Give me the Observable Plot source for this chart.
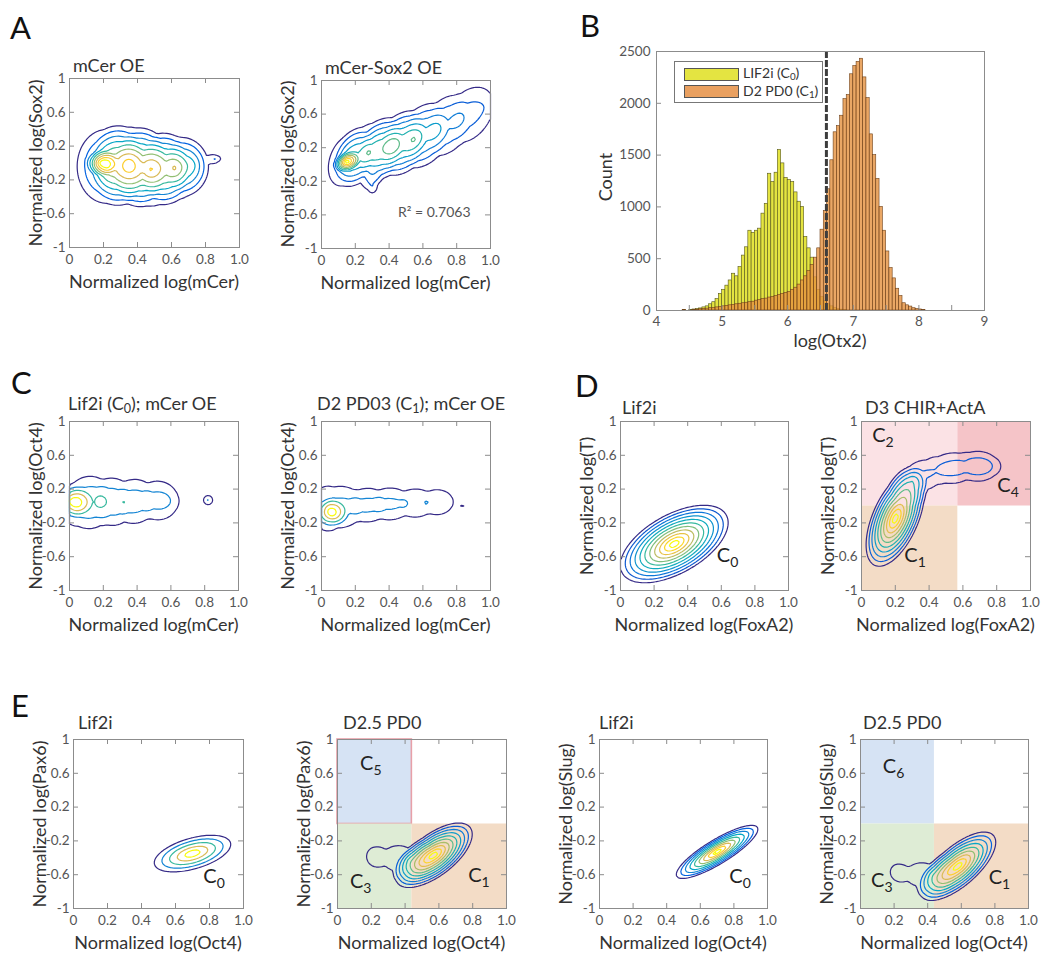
<!DOCTYPE html>
<html><head><meta charset="utf-8">
<script src="https://cdn.jsdelivr.net/npm/d3@7"></script>
<script src="https://cdn.jsdelivr.net/npm/@observablehq/plot@0.6"></script>
<style>
body{margin:0;background:#fff;}
#fig{position:relative;width:1045px;height:955px;font-family:Lato,"Open Sans",sans-serif;color:#333;overflow:hidden;background:#fff}
.abs{position:absolute;white-space:nowrap;line-height:1}
.letter{font-size:31px;color:#111;transform:translateY(-50%)}
.title{font-size:18px;color:#333;transform:translateY(-50%)}
.xlab{font-size:18px;color:#333;transform:translate(-50%,-50%)}
.ylab{font-size:18px;color:#333;transform:translate(-50%,-50%) rotate(-90deg)}
sub{font-size:70%;vertical-align:-0.2em}
.legend{border:1px solid #777;background:#fff;}
.legend .sw{position:absolute;left:9px;width:53px;height:11px;border:1px solid #555}
.legend .lt{position:absolute;left:68px;font-size:14px;color:#333;transform:translateY(-50%)}
svg{position:absolute}
</style></head><body><div id="fig"></div>
<script>
// ---------------- DATA ----------------
const xTicksNorm = [0, 0.2, 0.4, 0.6, 0.8, 1.0];
const yTicksNorm = [-1, -0.6, -0.2, 0.2, 0.6, 1];
const otxTicks = [4, 5, 6, 7, 8, 9];
const otxMinorTicks = [4.5, 5, 5.5, 6, 6.5, 7, 7.5, 8, 8.5];
const countTicks = [0, 500, 1000, 1500, 2000, 2500];

// Panel B histogram: counts per log(Otx2) bin, bins of 0.05 starting at 4.40
const otxBinStart = 4.40;
const otxBinWidth = 0.05;
const lif2iCounts = [5,0,5,10,15,20,30,40,60,80,110,160,200,240,290,355,330,420,530,610,
  770,750,770,790,935,1030,1320,1240,1330,1550,1420,1280,1260,1240,1140,1050,1000,710,600,510,
  320,200,130,90,60,40,25,15,8,4];
const d2pd0Counts = [3,0,0,5,8,12,15,18,22,25,30,35,40,45,50,55,60,65,70,75,
  80,85,95,100,110,115,125,130,140,150,160,170,180,200,220,250,290,330,380,440,
  510,600,780,960,1170,1450,1720,1780,1880,2040,2080,2280,2360,2400,2430,2250,2050,1700,1500,1270,
  1000,770,570,410,310,210,140,70,50,38,22,15,10,5];
const otxGate = 6.59;
const rSquared = 0.7063;

// Density modes: [centerX, centerY, reachX, reachY, tilt, weight]
const aMCerModes = [
  [0.19, 0.00, 0.10, 0.15, 0, 0.28],
  [0.22, -0.04, 0.22, 0.55, 0, 0.30],
  [0.35, -0.02, 0.22, 0.56, 0, 0.30],
  [0.48, -0.08, 0.22, 0.54, 0, 0.30],
  [0.62, -0.06, 0.20, 0.48, 0, 0.28],
  [0.72, -0.03, 0.16, 0.36, 0, 0.15],
  [0.86, 0.05, 0.06, 0.08, 0, 0.12]];
const aSox2Modes = [
  [0.15, 0.03, 0.08, 0.12, 0.3, 0.40],
  [0.15, 0.05, 0.15, 0.42, 0.3, 0.25],
  [0.28, 0.14, 0.20, 0.46, 0.3, 0.30],
  [0.42, 0.22, 0.20, 0.46, 0.3, 0.30],
  [0.55, 0.30, 0.20, 0.48, 0.3, 0.25],
  [0.68, 0.41, 0.20, 0.50, 0.3, 0.18],
  [0.82, 0.54, 0.20, 0.50, 0.3, 0.14],
  [0.95, 0.67, 0.20, 0.50, 0.3, 0.10],
  [0.30, -0.25, 0.07, 0.20, 0, 0.12]];
const cLif2iModes = [
  [0.02, 0.05, 0.12, 0.20, 0, 0.45],
  [0.05, 0.02, 0.20, 0.48, 0, 0.25],
  [0.18, 0.06, 0.18, 0.42, 0, 0.25],
  [0.32, 0.04, 0.18, 0.42, 0, 0.25],
  [0.46, 0.07, 0.18, 0.38, 0, 0.22],
  [0.58, 0.06, 0.16, 0.34, 0, 0.20],
  [0.82, 0.07, 0.05, 0.10, 0, 0.25]];
const cPD03Modes = [
  [0.06, -0.08, 0.10, 0.18, 0, 0.45],
  [0.04, -0.03, 0.20, 0.50, 0, 0.25],
  [0.20, 0.00, 0.18, 0.32, 0, 0.22],
  [0.34, 0.02, 0.18, 0.32, 0, 0.22],
  [0.48, 0.03, 0.18, 0.30, 0, 0.20],
  [0.62, 0.04, 0.16, 0.30, 0, 0.18],
  [0.74, 0.05, 0.14, 0.27, 0, 0.16],
  [0.84, 0.00, 0.06, 0.10, 0, 0.08]];
const dLif2iModes = [
  [0.32, -0.45, 0.35, 0.50, 0.55, 1.0]];
const dChirModes = [
  [0.20, -0.15, 0.19, 0.62, 0.55, 1.0],
  [0.30, 0.30, 0.15, 0.30, 0, 0.18],
  [0.45, 0.42, 0.18, 0.30, 0, 0.20],
  [0.62, 0.47, 0.18, 0.28, 0, 0.22],
  [0.75, 0.47, 0.15, 0.25, 0, 0.18]];
const ePax6Lif2iModes = [
  [0.70, -0.35, 0.27, 0.26, 0.5, 1.0]];
const ePax6PD0Modes = [
  [0.57, -0.37, 0.25, 0.42, 0.65, 1.0],
  [0.42, -0.42, 0.15, 0.30, 0, 0.14],
  [0.30, -0.40, 0.15, 0.28, 0, 0.13],
  [0.20, -0.38, 0.10, 0.25, 0, 0.10]];
const eSlugLif2iModes = [
  [0.70, -0.33, 0.27, 0.35, 0.85, 1.0]];
const eSlugPD0Modes = [
  [0.58, -0.50, 0.25, 0.45, 0.70, 1.0],
  [0.42, -0.60, 0.15, 0.30, 0, 0.14],
  [0.30, -0.60, 0.15, 0.28, 0, 0.13],
  [0.20, -0.56, 0.10, 0.25, 0, 0.10]];

// Gates (state regions) and state labels
const dChirGates = [
  {name: "C2", x1: 0, x2: 0.57, y1: 0, y2: 1},
  {name: "C4", x1: 0.57, x2: 1, y1: 0, y2: 1},
  {name: "C1", x1: 0, x2: 0.57, y1: -1, y2: 0}];
const ePax6Gates = [
  {name: "C5", x1: 0, x2: 0.44, y1: 0, y2: 1},
  {name: "C3", x1: 0, x2: 0.44, y1: -1, y2: 0},
  {name: "C1", x1: 0.44, x2: 1, y1: -1, y2: 0}];
const eSlugGates = [
  {name: "C6", x1: 0, x2: 0.44, y1: 0, y2: 1},
  {name: "C3", x1: 0, x2: 0.44, y1: -1, y2: 0},
  {name: "C1", x1: 0.44, x2: 1, y1: -1, y2: 0}];
const dLif2iLabels = [{c: "C", s: "0", x: 0.64, y: -0.67}];
const dChirLabels = [{c: "C", s: "2", x: 0.13, y: 0.75}, {c: "C", s: "4", x: 0.87, y: 0.16}, {c: "C", s: "1", x: 0.32, y: -0.67}];
const eLif2iLabels = [{c: "C", s: "0", x: 0.83, y: -0.70}];
const ePax6PD0Labels = [{c: "C", s: "5", x: 0.2, y: 0.63}, {c: "C", s: "3", x: 0.14, y: -0.76}, {c: "C", s: "1", x: 0.84, y: -0.69}];
const eSlugLif2iLabels = [{c: "C", s: "0", x: 0.84, y: -0.70}];
const eSlugPD0Labels = [{c: "C", s: "6", x: 0.2, y: 0.6}, {c: "C", s: "3", x: 0.13, y: -0.75}, {c: "C", s: "1", x: 0.83, y: -0.72}];

// ---------------- STYLE ----------------
const FONT = 'Lato, "Open Sans", sans-serif';
const parulaStops = ["#352a87","#0363e1","#1485d4","#06a7c6","#38b99e","#92bf73","#d9ba56","#fcce2e","#f9fb0e"];
const parula = d3.piecewise(d3.interpolateRgb, parulaStops);
const regionFill = {C1: "#f3dcc6", C2: "#fbe2e5", C4: "#f5c4c8", C3: "#deecd5", C5: "#d6e3f4", C6: "#d6e3f4"};
const regionStroke = {C5: "#e8a0a8"};
const frameColor = "#8c8c8c";
const tickTextColor = "#555";

const fig = document.getElementById("fig");
function addDiv(cls, html, left, top) {
  const d = document.createElement("div");
  d.className = "abs " + cls;
  d.innerHTML = html;
  d.style.left = left + "px";
  d.style.top = top + "px";
  fig.appendChild(d);
  return d;
}
const fmtNormX = d => d === 0 ? "0" : d.toFixed(1);
const fmtNormY = d => (d === 1 || d === -1) ? String(d) : d.toFixed(1);

function densityOf(modes) {
  const pre = modes.map(([cx, cy, rx, ry, rho, w]) => ({cx, cy, rx, ry, rho, k: Math.sqrt(1 - rho * rho), w}));
  return (x, y) => {
    let s = 0;
    for (const c of pre) {
      const u = (x - c.cx) / c.rx, v = (y - c.cy) / c.ry;
      const z = (v - c.rho * u) / c.k;
      const d = Math.sqrt(u * u + z * z);
      if (d < 1) s += c.w * (1 - d);
    }
    return s;
  };
}
function peakOf(f) {
  let m = 0;
  for (let i = 0; i <= 200; i++) for (let j = 0; j <= 200; j++) m = Math.max(m, f(i / 200, -1 + 2 * j / 200));
  return m;
}

function contourPanel(p) {
  const [L, T, W, H] = p.frame;
  const ml = 45, mt = 6, mr = 6, mb = 28;
  const f = densityOf(p.modes);
  const peak = peakOf(f);
  const n = p.levels;
  const thresholds = d3.range(1, n + 1).map(k => peak * k / (n + 1));
  const tY = 5 * 2 / H, tX = 5 / W;
  const marks = [];
  for (const g of (p.gates || [])) {
    marks.push(Plot.rect([g], {x1: "x1", x2: "x2", y1: "y1", y2: "y2", fill: regionFill[g.name],
      stroke: regionStroke[g.name] || "none", strokeWidth: 1.6}));
  }
  thresholds.forEach((t, i) => {
    marks.push(Plot.contour({x1: 0, x2: 1, y1: -1, y2: 1, value: f, thresholds: [t],
      stroke: parula(i / (n - 1)), fill: "none", strokeWidth: 1.2}));
  });
  const inX = xTicksNorm.slice(1, -1), inY = yTicksNorm.slice(1, -1);
  marks.push(
    Plot.frame({stroke: frameColor}),
    Plot.ruleX(inX, {x: d => d, y1: -1, y2: -1 + tY, stroke: frameColor}),
    Plot.ruleX(inX, {x: d => d, y1: 1 - tY, y2: 1, stroke: frameColor}),
    Plot.ruleY(inY, {y: d => d, x1: 0, x2: tX, stroke: frameColor}),
    Plot.ruleY(inY, {y: d => d, x1: 1 - tX, x2: 1, stroke: frameColor}),
    Plot.axisX({ticks: xTicksNorm, tickFormat: fmtNormX, tickSize: 0, tickPadding: 7, label: null, fill: tickTextColor}),
    Plot.axisY({ticks: yTicksNorm, tickFormat: fmtNormY, tickSize: 0, tickPadding: 4, label: null, fill: tickTextColor})
  );
  const svg = Plot.plot({
    width: W + ml + mr, height: H + mt + mb,
    marginLeft: ml, marginTop: mt, marginRight: mr, marginBottom: mb,
    x: {domain: [0, 1]}, y: {domain: [-1, 1]},
    style: {fontSize: "13.5px", fontFamily: FONT, background: "transparent", overflow: "visible"},
    marks
  });
  const xs = svg.scale("x"), ys = svg.scale("y");
  const sel = d3.select(svg);
  for (const l of (p.labels || [])) {
    const t = sel.append("text").attr("x", xs.apply(l.x)).attr("y", ys.apply(l.y))
      .attr("text-anchor", "middle").attr("font-family", FONT).attr("font-size", 20).attr("fill", "#222");
    t.append("tspan").text(l.c);
    t.append("tspan").attr("font-size", 14).attr("dy", 5).text(l.s);
  }
  if (p.note) {
    sel.append("text").attr("x", xs.apply(p.note.x)).attr("y", ys.apply(p.note.y)).attr("dy", "0.35em")
      .attr("text-anchor", "middle").attr("font-family", FONT).attr("font-size", 14).attr("fill", "#555")
      .text(p.note.text);
  }
  svg.style.left = (L - ml) + "px";
  svg.style.top = (T - mt) + "px";
  fig.appendChild(svg);
  addDiv("title", p.title, p.titlePos[0], p.titlePos[1]);
  addDiv("xlab", p.xlab, L + W / 2, T + H + 34);
  addDiv("ylab", p.ylab, L - 34, T + H / 2);
}

// ---------------- PANELS ----------------
addDiv("letter", "A", 10, 27);
addDiv("letter", "B", 580, 25);
addDiv("letter", "C", 11, 382);
addDiv("letter", "D", 575, 385);
addDiv("letter", "E", 11, 705);

const lblMCer = "Normalized log(mCer)";
const lblOct4 = "Normalized log(Oct4)";
contourPanel({frame: [69, 78, 170, 169], title: "mCer OE", titlePos: [73, 65], xlab: lblMCer, ylab: "Normalized log(Sox2)", modes: aMCerModes, levels: 9});
contourPanel({frame: [321, 80, 169, 168], title: "mCer-Sox2 OE", titlePos: [325, 67], xlab: lblMCer, ylab: "Normalized log(Sox2)", modes: aSox2Modes, levels: 10,
  note: {x: 0.67, y: -0.57, text: "R\u00b2 = " + rSquared.toFixed(4)}});
contourPanel({frame: [69, 421, 169, 169], title: "Lif2i (C<sub>0</sub>); mCer OE", titlePos: [68, 405], xlab: lblMCer, ylab: "Normalized log(Oct4)", modes: cLif2iModes, levels: 5});
contourPanel({frame: [321, 421, 169, 169], title: "D2 PD03 (C<sub>1</sub>); mCer OE", titlePos: [317, 405], xlab: lblMCer, ylab: "Normalized log(Oct4)", modes: cPD03Modes, levels: 5});
contourPanel({frame: [620, 421, 168, 169], title: "Lif2i", titlePos: [622, 407], xlab: "Normalized log(FoxA2)", ylab: "Normalized log(T)", modes: dLif2iModes, levels: 11, labels: dLif2iLabels});
contourPanel({frame: [861, 421, 169, 169], title: "D3 CHIR+ActA", titlePos: [865, 407], xlab: "Normalized log(FoxA2)", ylab: "Normalized log(T)", modes: dChirModes, levels: 10, gates: dChirGates, labels: dChirLabels});
contourPanel({frame: [73, 739, 170, 169], title: "Lif2i", titlePos: [78, 722], xlab: lblOct4, ylab: "Normalized log(Pax6)", modes: ePax6Lif2iModes, levels: 5, labels: eLif2iLabels});
contourPanel({frame: [337, 739, 169, 169], title: "D2.5 PD0", titlePos: [343, 722], xlab: lblOct4, ylab: "Normalized log(Pax6)", modes: ePax6PD0Modes, levels: 10, gates: ePax6Gates, labels: ePax6PD0Labels});
contourPanel({frame: [599, 739, 168, 169], title: "Lif2i", titlePos: [599, 722], xlab: lblOct4, ylab: "Normalized log(Slug)", modes: eSlugLif2iModes, levels: 9, labels: eSlugLif2iLabels});
contourPanel({frame: [860, 739, 168, 169], title: "D2.5 PD0", titlePos: [863, 722], xlab: lblOct4, ylab: "Normalized log(Slug)", modes: eSlugPD0Modes, levels: 9, gates: eSlugGates, labels: eSlugPD0Labels});

// Panel B: histogram
(function () {
  const L = 656, T = 51, W = 328, H = 259;
  const ml = 50, mt = 6, mr = 6, mb = 26;
  const bins = (counts) => counts.map((c, i) => ({x1: otxBinStart + i * otxBinWidth, x2: otxBinStart + (i + 1) * otxBinWidth, count: c}));
  const tY = 5 * 2500 / H;
  const svg = Plot.plot({
    width: W + ml + mr, height: H + mt + mb,
    marginLeft: ml, marginTop: mt, marginRight: mr, marginBottom: mb,
    x: {domain: [4, 9]}, y: {domain: [0, 2500]},
    style: {fontSize: "13.5px", fontFamily: FONT, background: "transparent", overflow: "visible"},
    marks: [
      Plot.rectY(bins(lif2iCounts), {x1: "x1", x2: "x2", y: "count", fill: "#e4e441", stroke: "#55551a", strokeWidth: 0.6}),
      Plot.rectY(bins(d2pd0Counts), {x1: "x1", x2: "x2", y: "count", fill: "#e5913f", fillOpacity: 0.8, stroke: "#6e4018", strokeWidth: 0.6}),
      Plot.ruleX([otxGate], {stroke: "#3d3d3d", strokeWidth: 3, strokeDasharray: "7,2"}),
      Plot.frame({stroke: frameColor}),
      Plot.ruleX(otxMinorTicks, {x: d => d, y1: 0, y2: tY, stroke: frameColor}),
      Plot.ruleY(countTicks.slice(1, -1), {y: d => d, x1: 4, x2: 4 + 5 * 5 / W, stroke: frameColor}),
      Plot.axisX({ticks: otxTicks, tickFormat: d => String(d), tickSize: 0, tickPadding: 6, label: null, fill: tickTextColor}),
      Plot.axisY({ticks: countTicks, tickFormat: d => String(d), tickSize: 0, tickPadding: 6, label: null, fill: tickTextColor})
    ]
  });
  svg.style.left = (L - ml) + "px";
  svg.style.top = (T - mt) + "px";
  fig.appendChild(svg);
  addDiv("ylab", "Count", 605, 177);
  addDiv("xlab", "log(Otx2)", 830, 340);
  const lg = addDiv("legend", "", 674, 61);
  lg.style.width = "147px"; lg.style.height = "40px";
  lg.innerHTML = '<div class="sw" style="top:6px;background:#e4e441"></div>' +
    '<div class="lt" style="top:12px">LIF2i (C<sub>0</sub>)</div>' +
    '<div class="sw" style="top:23px;background:#e9a060"></div>' +
    '<div class="lt" style="top:30px">D2 PD0 (C<sub>1</sub>)</div>';
})();
</script></body></html>
